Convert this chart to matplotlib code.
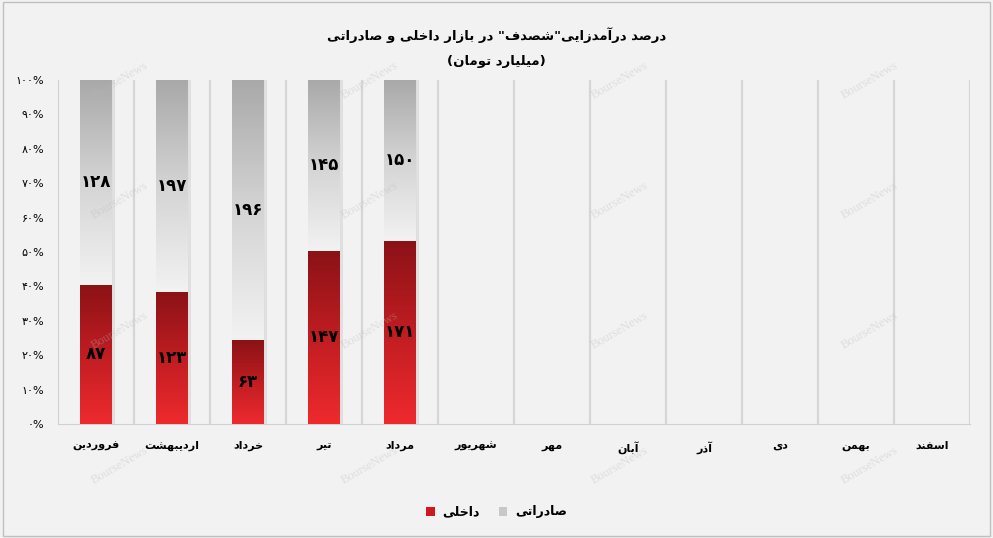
"""
Script to recreate the domestic / export revenue share chart
"""

import matplotlib

matplotlib.use("Agg")
import matplotlib.pyplot as plt
import numpy as np
from matplotlib.colors import LinearSegmentedColormap
from matplotlib.patches import Rectangle

# data
months = [
    "فروردین", "اردیبهشت", "خرداد", "تیر", "مرداد", "شهریور",
    "مهر", "آبان", "آذر", "دی", "بهمن", "اسفند",
]
domestic = [87, 123, 63, 147, 171]
export = [128, 197, 196, 145, 150]
tick_pct = [0, 10, 20, 30, 40, 50, 60, 70, 80, 90, 100]

title = 'درصد درآمدزایی"شصدف" در بازار داخلی و صادراتی'
subtitle = "(میلیارد تومان)"
label_domestic = "داخلی"
label_export = "صادراتی"

# minimal persian shaping (no reshaper lib available)
FORMS = {
    "ا": ("\ufe8d", "\ufe8e", None, None),
    "آ": ("\ufe81", "\ufe82", None, None),
    "د": ("\ufea9", "\ufeaa", None, None),
    "ذ": ("\ufeab", "\ufeac", None, None),
    "ر": ("\ufead", "\ufeae", None, None),
    "ز": ("\ufeaf", "\ufeb0", None, None),
    "و": ("\ufeed", "\ufeee", None, None),
    "ب": ("\ufe8f", "\ufe90", "\ufe91", "\ufe92"),
    "ت": ("\ufe95", "\ufe96", "\ufe97", "\ufe98"),
    "خ": ("\ufea5", "\ufea6", "\ufea7", "\ufea8"),
    "س": ("\ufeb1", "\ufeb2", "\ufeb3", "\ufeb4"),
    "ش": ("\ufeb5", "\ufeb6", "\ufeb7", "\ufeb8"),
    "ص": ("\ufeb9", "\ufeba", "\ufebb", "\ufebc"),
    "ف": ("\ufed1", "\ufed2", "\ufed3", "\ufed4"),
    "ل": ("\ufedd", "\ufede", "\ufedf", "\ufee0"),
    "م": ("\ufee1", "\ufee2", "\ufee3", "\ufee4"),
    "ن": ("\ufee5", "\ufee6", "\ufee7", "\ufee8"),
    "ه": ("\ufee9", "\ufeea", "\ufeeb", "\ufeec"),
    "ی": ("\ufeef", "\ufef0", "\ufef3", "\ufef4"),
}
MIRROR = {"(": ")", ")": "("}


def fa(s):
    out = []
    for i, c in enumerate(s):
        if c not in FORMS:
            out.append(MIRROR.get(c, c))
            continue
        prev = s[i - 1] if i > 0 else ""
        nxt = s[i + 1] if i + 1 < len(s) else ""
        jp = prev in FORMS and FORMS[prev][2] is not None
        jn = FORMS[c][2] is not None and nxt in FORMS
        iso, fin, ini, med = FORMS[c]
        if jp and jn:
            out.append(med)
        elif jp:
            out.append(fin)
        elif jn:
            out.append(ini)
        else:
            out.append(iso)
    return "".join(reversed(out))


FA_DIGITS = str.maketrans("0123456789", "۰۱۲۳۴۵۶۷۸۹")


def fa_num(v):
    return str(v).translate(FA_DIGITS)


plt.rcParams["font.family"] = ["DejaVu Sans"]

fig = plt.figure(figsize=(9.93, 5.38), dpi=100)
fig.patch.set_facecolor("#f2f2f2")
ax = fig.add_axes([58 / 993, 1 - 424 / 538, 912 / 993, 344 / 538])
ax.set_facecolor("#f2f2f2")

# outer border
fig.patches.append(
    Rectangle((0.003, 0.004), 0.994, 0.992, transform=fig.transFigure,
              fill=False, edgecolor="#bfbfbf", linewidth=1)
)

x = np.arange(len(domestic))
totals = np.array(domestic) + np.array(export)
dom_pct = np.array(domestic) / totals * 100
exp_pct = np.array(export) / totals * 100

red_cmap = LinearSegmentedColormap.from_list("r", ["#ee2a2e", "#c01d22", "#8a1216"])
gray_cmap = LinearSegmentedColormap.from_list("g", ["#f2f2f2", "#d4d4d4", "#a9a9a9"])
grad = np.linspace(0, 1, 256).reshape(-1, 1)

bw = 0.42
bars_dom = ax.bar(x, dom_pct, width=bw, color="none", edgecolor="none", zorder=3)
bars_exp = ax.bar(x, exp_pct, width=bw, bottom=dom_pct, color="none", edgecolor="none", zorder=3)

for bars, cmap in [(bars_dom, red_cmap), (bars_exp, gray_cmap)]:
    for p in bars:
        x0, y0 = p.get_x(), p.get_y()
        w, h = p.get_width(), p.get_height()
        # soft shadow
        ax.add_patch(Rectangle((x0 + 0.04, y0), w, h, facecolor="#000000",
                               alpha=0.08, edgecolor="none", zorder=2))
        im = ax.imshow(grad, cmap=cmap, origin="lower", aspect="auto",
                       extent=(x0, x0 + w, y0, y0 + h), zorder=3)
        im.set_clip_path(p)

# value labels
for i in x:
    ax.text(i, dom_pct[i] / 2, fa_num(domestic[i]), ha="center", va="center",
            fontsize=12, fontweight="bold", color="black", zorder=5)
    ax.text(i, dom_pct[i] + exp_pct[i] / 2, fa_num(export[i]), ha="center",
            va="center", fontsize=12, fontweight="bold", color="black", zorder=5)

# vertical separators
for b in np.arange(0.5, 12, 1):
    ax.axvline(b, color="#d6d6d6", linewidth=1.6, zorder=1)

ax.set_xlim(-0.5, 11.5)
ax.set_ylim(0, 100)
ax.set_xticks(np.arange(len(months)))
ax.set_xticklabels([fa(m) for m in months], fontsize=8, fontweight="bold")
ax.set_yticks(tick_pct)
ax.set_yticklabels([fa_num(t) + "%" for t in tick_pct], fontsize=8)
ax.tick_params(length=0, pad=12)
ax.tick_params(axis="y", pad=10)

for side in ["top", "right"]:
    ax.spines[side].set_visible(False)
ax.spines["left"].set_color("#d0d0d0")
ax.spines["bottom"].set_color("#d0d0d0")

# title
fig.text(0.5, 1 - 35 / 538, fa(title), ha="center", va="center",
         fontsize=9.5, fontweight="bold")
fig.text(0.5, 1 - 62 / 538, fa(subtitle), ha="center", va="center",
         fontsize=9.5, fontweight="bold")

# watermark
for wx in [120, 370, 620, 870]:
    for wy in [80, 200, 330, 465]:
        fig.text(wx / 993, 1 - wy / 538, "BourseNews", ha="center", va="center",
                 rotation=30, fontsize=9, family="Liberation Serif",
                 color="#b8b8b8", alpha=0.35, zorder=10)

# legend
h_dom = Rectangle((0, 0), 1, 1, facecolor="#d0191e")
h_exp = Rectangle((0, 0), 1, 1, facecolor="#c8c8c8")
fig.legend([h_dom, h_exp], [fa(label_domestic), fa(label_export)],
           loc="center", bbox_to_anchor=(0.5, 1 - 512 / 538), ncol=2,
           frameon=False, markerfirst=True, handlelength=0.7, handleheight=0.7,
           handletextpad=0.6, columnspacing=1.5, prop={"weight": "bold", "size": 9})

plt.savefig("out.png", dpi=100, facecolor=fig.get_facecolor())
